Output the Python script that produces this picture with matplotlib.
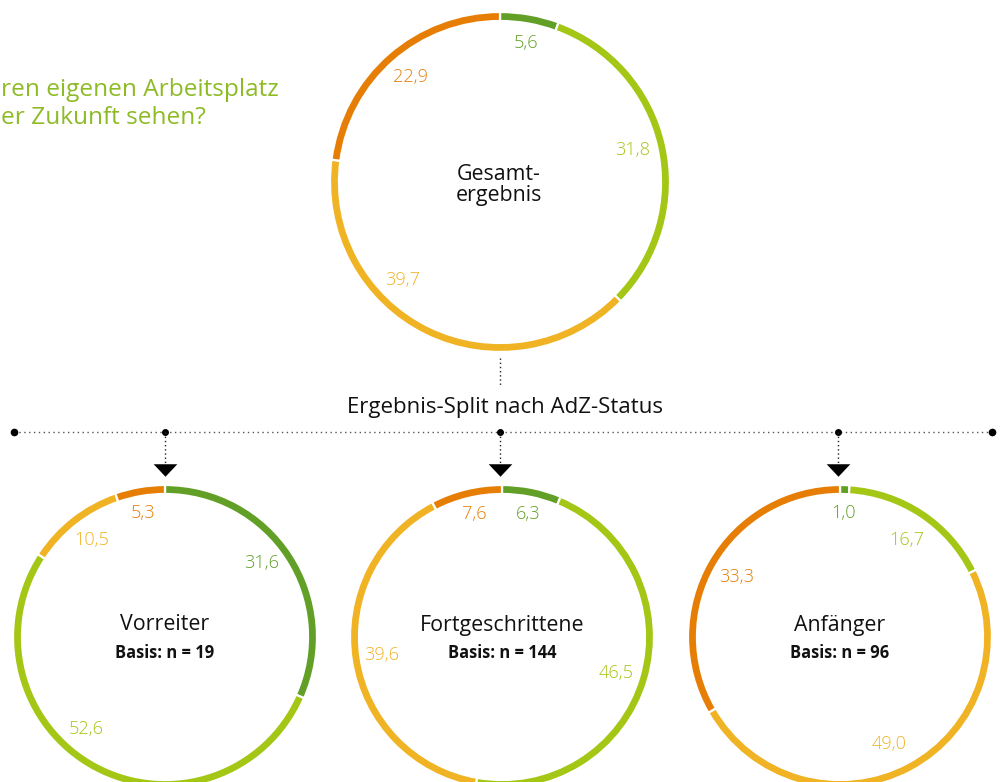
import matplotlib
matplotlib.use("Agg")
import matplotlib.pyplot as plt

# ---------------- data ----------------
chart_titles = ["Gesamt-\nergebnis", "Vorreiter", "Fortgeschrittene", "Anfänger"]
chart_bases = [None, "Basis: n = 19", "Basis: n = 144", "Basis: n = 96"]
# segment order (clockwise from top): dark green, light green, yellow, orange
gesamt = [5.6, 31.8, 39.7, 22.9]
vorreiter = [31.6, 52.6, 10.5, 5.3]
fortgeschrittene = [6.3, 46.5, 39.6, 7.6]
anfaenger = [1.0, 16.7, 49.0, 33.3]
series = [gesamt, vorreiter, fortgeschrittene, anfaenger]
title_lines = ["ren eigenen Arbeitsplatz", "er Zukunft sehen?"]
split_label = "Ergebnis-Split nach AdZ-Status"

# ---------------- style / layout ----------------
colors = ["#629f26", "#a4c615", "#f0b323", "#e67e05"]
green_title = "#8dbb25"
W, H = 1000, 782
FONT = "Open Sans"

def Y(py):
    return H - py

centers = [(500, 182), (165, 637), (502, 637), (840, 637)]
radii = [170, 152, 152, 152]
ring_w = 9
label_offsets = [
    [(26, -139), (133, -32), (-97, 98), (-89, -105)],
    [(97, -74), (-79, 92), (-73, -97), (-22, -124)],
    [(26, -123), (114, 36), (-120, 18), (-28, -123)],
    [(4, -124), (67, -97), (49, 107), (-103, -60)],
]

fig = plt.figure(figsize=(W / 100, H / 100), dpi=100)
ax = fig.add_axes([0, 0, 1, 1])
renderer = fig.canvas.get_renderer()


def fitted_size(s, target_px, base=12, **kw):
    t = fig.text(0, 0, s, fontsize=base, fontfamily=FONT, **kw)
    w = t.get_window_extent(renderer).width
    t.remove()
    return base * target_px / w


fs_num = fitted_size("22,9", 35, fontweight=300)
fs_name = fitted_size("Vorreiter", 88)
fs_basis = fitted_size("Basis: n = 144", 109, fontweight="bold")
fs_split = fitted_size(split_label, 315)
fs_title = fitted_size(title_lines[0], 276)

for vals, (cx, cy), R, offs in zip(series, centers, radii, label_offsets):
    ax.pie(vals, colors=colors, startangle=90, counterclock=False,
           center=(cx, Y(cy)), radius=R, frame=False,
           wedgeprops=dict(width=ring_w, edgecolor="white", linewidth=1.6))
    for v, c, (dx, dy) in zip(vals, colors, offs):
        ax.text(cx + dx, Y(cy + dy), f"{v:.1f}".replace(".", ","), color=c,
                fontsize=fs_num, fontfamily=FONT, fontweight=300,
                ha="center", va="center")

# centre titles
ax.text(499, Y(185), chart_titles[0], ha="center", va="center", fontsize=fs_name,
        fontfamily=FONT, color="#111111", linespacing=1.05)
for (cx, cy), t, b in zip(centers[1:], chart_titles[1:], chart_bases[1:]):
    ax.text(cx, Y(625), t, ha="center", va="center", fontsize=fs_name,
            fontfamily=FONT, color="#111111")
    ax.text(cx, Y(653), b, ha="center", va="center", fontsize=fs_basis,
            fontfamily=FONT, fontweight="bold", color="#111111")

# question title (cut off on the left)
ax.text(1, Y(90), title_lines[0], ha="left", va="center", fontsize=fs_title,
        fontfamily=FONT, color=green_title)
ax.text(1, Y(118), title_lines[1], ha="left", va="center", fontsize=fs_title,
        fontfamily=FONT, color=green_title)

# connector lines
ax.plot([500, 500], [Y(358), Y(385)], color="#222222", lw=1, ls=(0, (1, 2)))
ax.text(505, Y(407), split_label, ha="center", va="center", fontsize=fs_split,
        fontfamily=FONT, color="#111111")
ax.plot([14, 992], [Y(432), Y(432)], color="#555555", lw=1, ls=(0, (1, 2.5)))
ax.plot([14, 992], [Y(432), Y(432)], ls="none", marker="o", ms=4.5, color="black")
tri = [(-1, 0.53), (1, 0.53), (0, -0.53), (-1, 0.53)]
for cx in [165, 500, 838]:
    ax.plot([cx], [Y(432)], marker="o", ms=4, color="black")
    ax.plot([cx, cx], [Y(432), Y(465)], color="#222222", lw=1, ls=(0, (1, 2)))
    ax.plot([cx], [Y(469.5)], marker=tri, ms=17, color="black", mec="black", mew=0)

ax.set_xlim(0, W)
ax.set_ylim(0, H)
ax.set_aspect("auto")
ax.axis("off")
fig.savefig("out.png", dpi=100, facecolor="white")
